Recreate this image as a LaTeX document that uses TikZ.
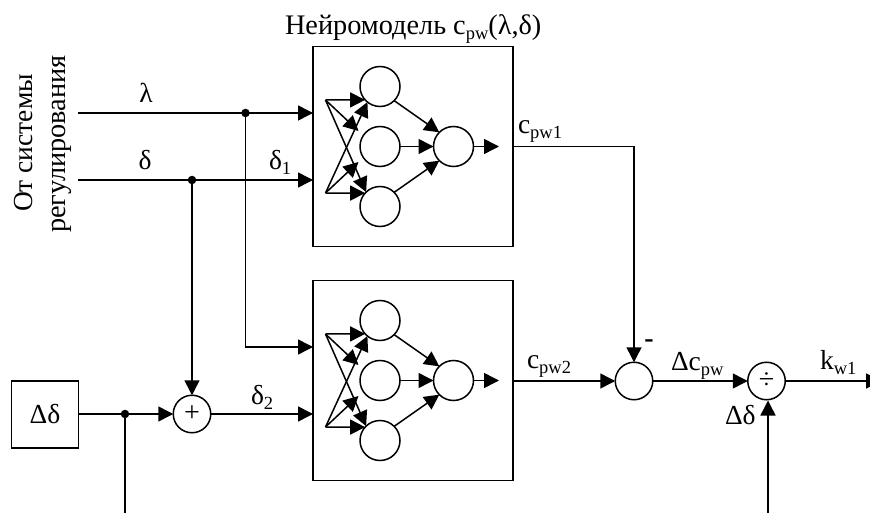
\documentclass[tikz,border=0pt]{standalone}
\usepackage{fontspec}
\setmainfont{Liberation Serif}
\usetikzlibrary{arrows.meta}
\newcommand{\lowtxt}[1]{\raisebox{-5pt}{\fontsize{18.5}{18.5}\selectfont #1}}
\tikzset{
  every node/.style={inner sep=0pt,outer sep=0pt},
  wire/.style={line width=1.5pt,draw=black},
  arr/.style={wire,-{Triangle[length=15pt,width=15pt]}},
  netbox/.style={draw=black,line width=1.5pt,minimum width=200pt,minimum height=200pt},
  neuron/.style={circle,draw=black,line width=1.5pt,minimum size=40pt},
  sumnode/.style={circle,draw=black,line width=1.5pt,minimum size=37.5pt,font=\fontsize{28}{28}\selectfont},
  dotnode/.style={circle,fill=black,minimum size=8.5pt},
  lbl/.style={font=\fontsize{27.5}{27.5}\selectfont,text=black},
  bigger/.style={font=\fontsize{28.3}{28.3}\selectfont,text=black},
  srcbox/.style={draw=black,line width=1.5pt,minimum width=67pt,minimum height=67pt,font=\fontsize{27.5}{27.5}\selectfont},
}
\begin{document}
\begin{tikzpicture}[x=1pt,y=-1pt]
\clip (0,0) rectangle (870,513);
% network boxes
\node[netbox] (boxA) at (413,146.5) {};
\node[netbox] (boxB) at (413,380.5) {};
\foreach \b/\yy in {A/0,B/234}{
  \node[neuron] (\b n1) at (380,86.5+\yy) {};
  \node[neuron] (\b n2) at (380,146.5+\yy) {};
  \node[neuron] (\b n3) at (380,206.5+\yy) {};
  \node[neuron] (\b o) at (453.5,146.5+\yy) {};
  \coordinate (\b i1) at (325.5,100+\yy);
  \coordinate (\b i2) at (325.5,193+\yy);
  \coordinate (\b m1) at (358.5,131+\yy);
  \coordinate (\b m2) at (358.5,162+\yy);
  \coordinate (\b e) at (499,146.5+\yy);
  \draw[arr] (\b i1) -- (\b n1.222);
  \draw[arr] (\b i1) -- (\b m1);
  \draw[arr] (\b i1) -- (\b n3.134);
  \draw[arr] (\b i2) -- (\b n1.231);
  \draw[arr] (\b i2) -- (\b m2);
  \draw[arr] (\b i2) -- (\b n3.138);
  \draw[arr] (\b n1.-45) -- (\b o.135);
  \draw[arr] (\b n2) -- (\b o);
  \draw[arr] (\b n3.45) -- (\b o.225);
  \draw[arr] (\b o) -- (\b e);
}
% source lines
\coordinate (lamS) at (78,113);
\coordinate (delS) at (78,180);
\coordinate (lamA) at (313,113);
\coordinate (delA) at (313,180);
\coordinate (lamB) at (313,347);
\coordinate (delB) at (313,414);
\node[dotnode] (lamD) at (245.5,113) {};
\node[dotnode] (delD) at (192,180) {};
\node[sumnode] (plus) at (192,414) {\raisebox{-3pt}{+}};
\node[srcbox] (src) at (45,414.5) {Δδ};
\node[dotnode] (srcD) at (125,414) {};
\coordinate (srcE) at (125,513);
\draw[arr] (lamS) -- (lamA);
\draw[arr] (delS) -- (delA);
\draw[arr] (lamD) |- (lamB);
\draw[arr] (delD) -- (plus);
\draw[wire] (src.east |- srcD) -- (srcD);
\draw[wire] (srcD) -- (srcE);
\draw[arr] (srcD) -- (plus);
\draw[arr] (plus) -- (delB);
% outputs
\node[sumnode] (diff) at (634,381) {};
\node[sumnode] (divn) at (766.5,381) {÷};
\coordinate (kE) at (881,381);
\coordinate (dIn) at (768,513);
\coordinate (dTip) at (768,400.5);
\draw[arr] (boxA.east |- Ae) -| (diff);
\draw[arr] (boxB.east |- diff) -- (diff);
\draw[arr] (diff) -- (divn);
\draw[arr] (divn) -- (kE);
\draw[arr] (dIn) -- (dTip);
% labels
\node[bigger,anchor=base west] (title) at (285,35) {Нейромодель c\lowtxt{pw}(λ,δ)};
\node[lbl,rotate=90] (t1) at (24,143) {От системы};
\node[bigger,rotate=90] (t2) at (62,144) {регулирования};
\node[lbl,anchor=base] (lam) at (146,103) {λ};
\node[lbl,anchor=base] (del) at (145,170) {δ};
\node[lbl,anchor=base west] (d1) at (269,170) {δ\lowtxt{1}};
\node[lbl,anchor=base west] (d2) at (251,404) {δ\lowtxt{2}};
\node[lbl,anchor=base west] (c1) at (518,134) {c\lowtxt{pw1}};
\node[lbl,anchor=base west] (c2) at (527,368) {c\lowtxt{pw2}};
\node[lbl,anchor=base west] (dc) at (671,370) {Δc\lowtxt{pw}};
\node[lbl,anchor=base west] (k) at (820,369) {k\lowtxt{w1}};
\node[lbl,anchor=base west] (dd) at (725,424) {Δδ};
\node[anchor=center,font=\bfseries\fontsize{28}{28}\selectfont] (minus) at (649,344) {-};
\end{tikzpicture}
\end{document}
